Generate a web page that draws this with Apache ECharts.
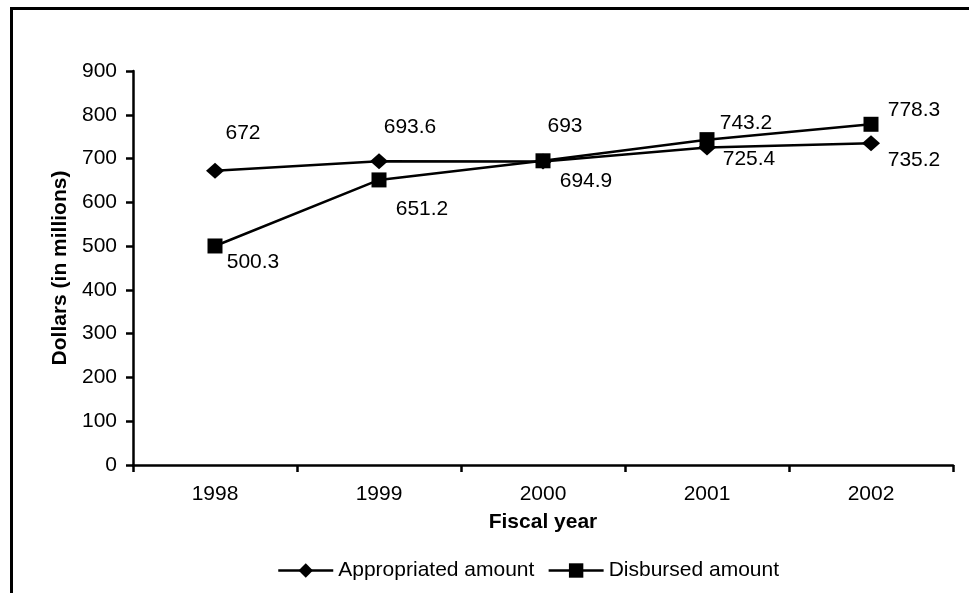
<!DOCTYPE html>
<html>
<head>
<meta charset="utf-8">
<script src="https://cdn.jsdelivr.net/npm/echarts@6/dist/echarts.min.js"></script>
<style>html,body{margin:0;padding:0;background:#fff}#c{width:969px;height:593px}</style>
</head>
<body>
<div id="c"></div>
<script>
const categories = ['1998', '1999', '2000', '2001', '2002'];
const appropriated = [672, 693.6, 693, 725.4, 735.2];
const disbursed = [500.3, 651.2, 694.9, 743.2, 778.3];
const seriesNames = ['Appropriated amount', 'Disbursed amount'];
const yAxisTitle = 'Dollars (in millions)';
const xAxisTitle = 'Fiscal year';

// label placement (style, not data)
const appLabelOffsets = [[28, -38], [31, -34], [22, -35], [42, 12], [43, 17]];
const disLabelOffsets = [[38, 16], [43, 29], [43, 20], [39, -16], [43, -14]];

const FONT = 'Arial, "Liberation Sans", sans-serif';
const FS = 21;

function build(values, offsets) {
  return values.map((v, i) => ({ value: v, label: { offset: offsets[i] } }));
}

const chart = echarts.init(document.getElementById('c'), null, { renderer: 'canvas' });
chart.setOption({
  backgroundColor: '#fff',
  animation: false,
  textStyle: { fontFamily: FONT, color: '#000' },
  graphic: [{
    type: 'rect', left: 9, top: 6, z: 100,
    shape: { x: 0, y: 0, width: 1100, height: 700 },
    style: { fill: 'none', stroke: '#000', lineWidth: 3 }
  }],
  grid: { left: 133, right: 16, top: 71, bottom: 128 },
  legend: {
    left: 272, top: 555, itemWidth: 55, itemHeight: 18, itemGap: 13,
    lineStyle: { width: 2.5, color: '#000' },
    textStyle: { fontFamily: FONT, fontSize: FS, color: '#000' },
    data: seriesNames
  },
  xAxis: {
    type: 'category', data: categories,
    name: xAxisTitle, nameLocation: 'middle', nameGap: 47,
    nameTextStyle: { fontFamily: FONT, fontSize: FS, fontWeight: 'bold', color: '#000' },
    axisLine: { lineStyle: { color: '#000', width: 2.5 } },
    axisTick: { show: true, length: 7, lineStyle: { color: '#000', width: 2.5 } },
    axisLabel: { fontFamily: FONT, fontSize: FS, color: '#000', margin: 19 },
    splitLine: { show: false }
  },
  yAxis: {
    type: 'value', min: 0, max: 900, interval: 100,
    name: yAxisTitle, nameLocation: 'middle', nameGap: 62,
    nameTextStyle: { fontFamily: FONT, fontSize: FS, fontWeight: 'bold', color: '#000' },
    axisLine: { show: true, lineStyle: { color: '#000', width: 2.5 } },
    axisTick: { show: true, length: 7, lineStyle: { color: '#000', width: 2.5 } },
    axisLabel: { fontFamily: FONT, fontSize: FS, color: '#000', margin: 16 },
    splitLine: { show: false }
  },
  series: [
    {
      name: seriesNames[0], type: 'line', data: build(appropriated, appLabelOffsets),
      symbol: 'diamond', symbolSize: [18, 16], showAllSymbol: true,
      itemStyle: { color: '#000' }, lineStyle: { color: '#000', width: 2.5 },
      label: { show: true, position: 'inside', align: 'center', verticalAlign: 'middle',
        fontFamily: FONT, fontSize: FS, color: '#000' }
    },
    {
      name: seriesNames[1], type: 'line', data: build(disbursed, disLabelOffsets),
      symbol: 'rect', symbolSize: 15, showAllSymbol: true,
      itemStyle: { color: '#000' }, lineStyle: { color: '#000', width: 2.5 },
      label: { show: true, position: 'inside', align: 'center', verticalAlign: 'middle',
        fontFamily: FONT, fontSize: FS, color: '#000' }
    }
  ]
});
</script>
</body>
</html>
